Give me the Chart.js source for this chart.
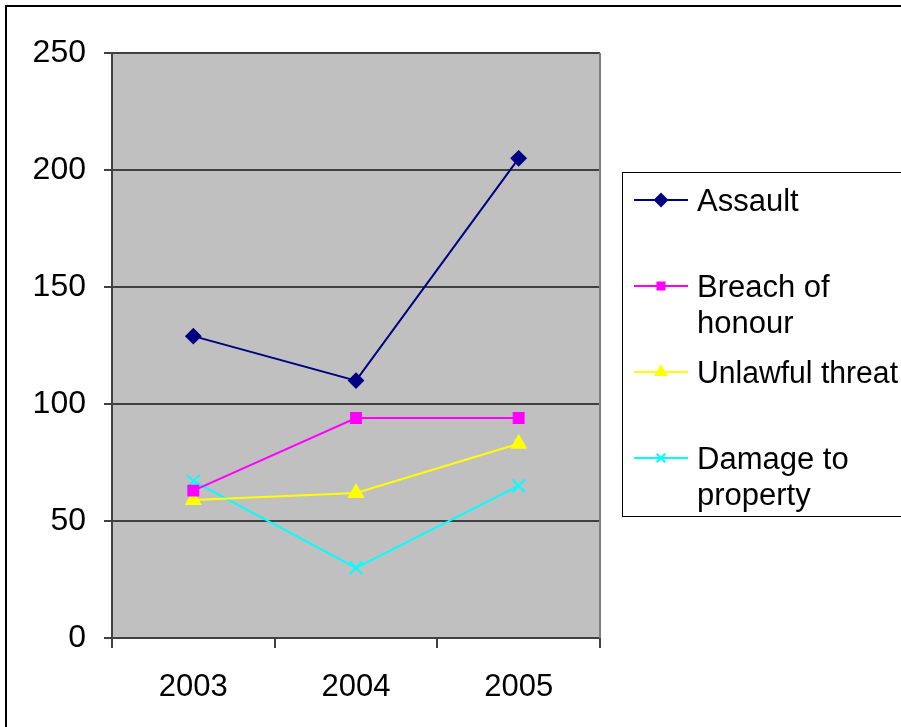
<!DOCTYPE html>
<html>
<head>
<meta charset="utf-8">
<script src="https://cdn.jsdelivr.net/npm/chart.js@4"></script>
<style>
  body { margin: 0; background: #fff; }
  canvas { display: block; }
</style>
</head>
<body>
<canvas id="myChart" width="901" height="727"></canvas>
<script>
const years = ["2003", "2004", "2005"];
const assault = [129, 110, 205];
const breachOfHonour = [63, 94, 94];
const unlawfulThreat = [59, 62, 83];
const damageToProperty = [67, 30, 65];
const yTicks = [0, 50, 100, 150, 200, 250];

const FONT = "'Liberation Sans', Arial, sans-serif";

// grey plot area, frame and the boxed legend on the right
const excelLook = {
  id: "excelLook",
  beforeDraw(chart) {
    const { ctx, chartArea: a } = chart;
    ctx.save();
    ctx.fillStyle = "#c0c0c0";
    ctx.fillRect(a.left, a.top, a.right - a.left, a.bottom - a.top);
    ctx.restore();
  },
  afterDatasetsDraw(chart) {
    const { ctx, chartArea: a } = chart;
    ctx.save();
    ctx.strokeStyle = "#808080";
    ctx.lineWidth = 2;
    ctx.beginPath();
    ctx.moveTo(a.right, a.top);
    ctx.lineTo(a.right, a.bottom);
    ctx.stroke();
    ctx.restore();
  },
  afterDraw(chart) {
    const { ctx } = chart;
    ctx.save();
    // outer frame
    ctx.strokeStyle = "#000";
    ctx.lineWidth = 2;
    ctx.strokeRect(6, 6, 1000, 1000);

    // legend box
    ctx.lineWidth = 1;
    ctx.strokeStyle = "#000";
    ctx.strokeRect(622.5, 172.5, 400, 344);

    ctx.font = "31px " + FONT;
    ctx.textBaseline = "middle";
    const maxW = 215;
    chart.data.datasets.forEach((ds, i) => {
      const y = 200 + i * 86;
      ctx.strokeStyle = ds.borderColor;
      ctx.fillStyle = ds.borderColor;
      ctx.lineWidth = 2;
      ctx.beginPath();
      ctx.moveTo(634, y);
      ctx.lineTo(688, y);
      ctx.stroke();
      Chart.helpers.drawPoint(ctx, {
        pointStyle: ds.pointStyle,
        radius: ds.legendRadius,
        borderWidth: 2,
        rotation: 0
      }, 661, y);
      // word wrap
      const words = ds.label.split(" ");
      const lines = [];
      let cur = "";
      words.forEach(w => {
        const t = cur ? cur + " " + w : w;
        if (ctx.measureText(t).width > maxW && cur) {
          lines.push(cur);
          cur = w;
        } else cur = t;
      });
      lines.push(cur);
      ctx.fillStyle = "#000";
      lines.forEach((l, k) => ctx.fillText(l, 697, y + 2 + k * 36, 201));
    });
    ctx.restore();
  }
};

function series(label, data, color, pointStyle, radius, legendRadius) {
  return {
    label: label,
    data: data,
    borderColor: color,
    backgroundColor: color,
    pointBackgroundColor: color,
    pointBorderColor: color,
    pointStyle: pointStyle,
    pointRadius: radius,
    pointBorderWidth: 2,
    borderWidth: 2,
    legendRadius: legendRadius,
    tension: 0
  };
}

const ctx = document.getElementById("myChart");
new Chart(ctx, {
  type: "line",
  data: {
    labels: years,
    datasets: [
      series("Assault", assault, "#000080", "rectRot", 7, 6),
      series("Breach of honour", breachOfHonour, "#ff00ff", "rect", 7, 5),
      series("Unlawful threat", unlawfulThreat, "#ffff00", "triangle", 8, 6),
      series("Damage to property", damageToProperty, "#00ffff", "crossRot", 9, 6),
    ],
  },
  options: {
    responsive: false,
    animation: false,
    layout: { padding: { left: 0, top: 53, right: 301, bottom: 0 } },
    plugins: {
      legend: { display: false },
      tooltip: { enabled: false },
    },
    scales: {
      x: {
        offset: true,
        grid: {
          offset: true,
          drawOnChartArea: false,
          color: "#404040",
          lineWidth: 2,
          tickLength: 10,
        },
        border: { color: "#404040", width: 2 },
        ticks: {
          color: "#000",
          padding: 21,
          font: { family: FONT, size: 31 },
        },
        afterFit(scale) { scale.height = 89; },
      },
      y: {
        min: 0,
        max: 250,
        afterBuildTicks(scale) { scale.ticks = yTicks.map(v => ({ value: v })); },
        grid: {
          color: "#404040",
          lineWidth: 2,
          tickLength: 8,
        },
        border: { color: "#404040", width: 2 },
        ticks: {
          color: "#000",
          padding: 18,
          font: { family: FONT, size: 32 },
        },
        afterFit(scale) { scale.width = 112; },
      },
    },
  },
  plugins: [excelLook],
});
</script>
</body>
</html>
